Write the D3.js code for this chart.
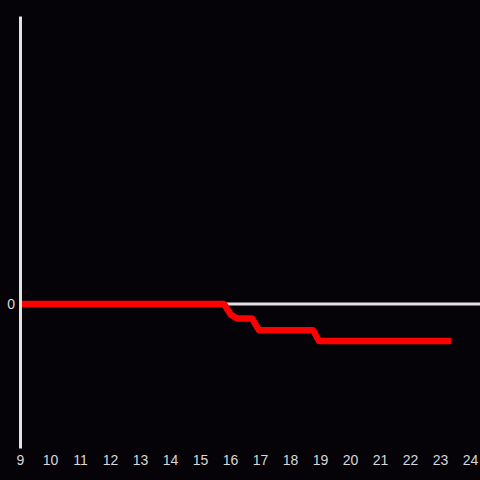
<!DOCTYPE html>
<html lang="en">
<head>
<meta charset="UTF-8">
<title>line</title>
<script src="https://cdn.jsdelivr.net/npm/d3@7"></script>
<style>
  html, body { margin: 0; padding: 0; background: #050307; }
  svg { display: block; }
</style>
</head>
<body>
<script>
    // data (hour of day, value)
    var times  = [9, 15.8, 16.03, 16.23, 16.73, 16.97, 18.77, 18.97, 23.37];
    var values = [0, 0, -0.075, -0.1, -0.1, -0.183, -0.183, -0.257, -0.257];
    var xTicks = [9,10,11,12,13,14,15,16,17,18,19,20,21,22,23,24];
    var yTicks = [0];

    var width = 480, height = 480;

    var svg = d3.select("body").append("svg")
        .attr("width", width).attr("height", height);

    svg.append("rect").attr("width", width).attr("height", height).attr("fill", "#050307");

    var x = d3.scaleLinear().domain([9, 24]).range([20, 470]);
    var y = d3.scaleLinear().domain([-1, 2]).range([448, 16]);

    // zero line
    svg.append("line")
        .attr("x1", x(9)).attr("x2", width)
        .attr("y1", y(0)).attr("y2", y(0))
        .attr("stroke", "#e2e2e2").attr("stroke-width", 3);

    // the series
    var line = d3.line()
        .x(function (d, i) { return x(times[i]); })
        .y(function (d) { return y(d); });

    svg.append("path")
        .datum(values)
        .attr("d", line)
        .attr("fill", "none")
        .attr("stroke", "#ff0000")
        .attr("stroke-width", 6.5)
        .attr("stroke-linejoin", "round");

    // y axis
    var yAxis = d3.axisLeft(y).tickValues(yTicks).tickFormat(d3.format("d")).tickSize(0).tickPadding(5);
    var gy = svg.append("g").attr("transform", "translate(" + x(9) + ",0)").call(yAxis);
    gy.select(".domain").attr("stroke", "#e2e2e2").attr("stroke-width", 3);
    gy.selectAll("text").attr("fill", "#d8d8d8").style("font-family", "Liberation Sans, Arial, sans-serif").style("font-size", "14px");

    // x axis (labels only)
    var xAxis = d3.axisBottom(x).tickValues(xTicks).tickFormat(d3.format("d")).tickSize(0).tickPadding(7);
    var gx = svg.append("g").attr("transform", "translate(0,448)").call(xAxis);
    gx.select(".domain").remove();
    gx.selectAll("text").attr("fill", "#d8d8d8").style("font-family", "Liberation Sans, Arial, sans-serif").style("font-size", "14px");
</script>
</body>
</html>
